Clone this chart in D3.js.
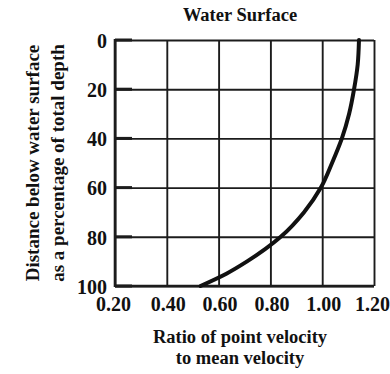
<!DOCTYPE html>
<html><head><meta charset="utf-8">
<script src="https://cdn.jsdelivr.net/npm/d3@7/dist/d3.min.js"></script>
<style>
html,body{margin:0;padding:0;background:#fff;}
svg{display:block;}
text{font-family:"Liberation Serif","Times New Roman",serif;font-weight:bold;fill:#111;}
</style></head>
<body>
<script>
const depth = [0, 10, 20, 30, 40, 50, 60, 70, 80, 90, 95, 100];
const ratio = [1.142, 1.137, 1.123, 1.104, 1.076, 1.038, 0.995, 0.93, 0.84, 0.71, 0.63, 0.53];
const xTicks = [0.2, 0.4, 0.6, 0.8, 1.0, 1.2];
const xTickLabels = ["0.20", "0.40", "0.60", "0.80", "1.00", "1.20"];
const yTicks = [0, 20, 40, 60, 80, 100];
const yTickLabels = ["0", "20", "40", "60", "80", "100"];
const title = "Water Surface";
const yTitle = ["Distance below water surface", "as a percentage of total depth"];
const xTitle = ["Ratio of point velocity", "to mean velocity"];

const W = 390, H = 374;
const m = {left:115, right:16, top:40, bottom:88};
const svg = d3.select("body").append("svg").attr("width", W).attr("height", H);

const x = d3.scaleLinear().domain([0.2, 1.2]).range([m.left, W - m.right]);
const y = d3.scaleLinear().domain([0, 100]).range([m.top, H - m.bottom]);
const ink = "#1c1c1c";

// grid via axes
const gx = svg.append("g").attr("transform", `translate(0,${y(100)})`)
  .call(d3.axisBottom(x).tickValues(xTicks).tickSize(-(y(100) - y(0)))
    .tickFormat((d, i) => xTickLabels[i]).tickPadding(11));
gx.select(".domain").remove();
gx.selectAll("line").attr("stroke", ink).attr("stroke-width", 1.9);
gx.selectAll("text").style("font-size", "20px").attr("fill", ink)
  .attr("dx", (d, i) => i === xTicks.length - 1 ? -2 : (i === 0 ? -2 : 1));

const gy = svg.append("g").attr("transform", `translate(${x(0.2)},0)`)
  .call(d3.axisLeft(y).tickValues(yTicks).tickSize(-(x(1.2) - x(0.2)))
    .tickFormat((d, i) => yTickLabels[i]).tickPadding(8));
gy.select(".domain").remove();
gy.selectAll("line").attr("stroke", ink).attr("stroke-width", 1.9);
gy.selectAll("text").style("font-size", "20px").attr("fill", ink).attr("dy", "0.36em");

// short thick ticks inside the left axis
svg.append("g").selectAll("line").data(yTicks).join("line")
  .attr("x1", x(0.2)).attr("x2", x(0.2) + 17)
  .attr("y1", d => y(d)).attr("y2", d => y(d))
  .attr("stroke", ink).attr("stroke-width", 3);

// frame: left & bottom thicker
svg.append("line").attr("x1", x(0.2)).attr("x2", x(0.2)).attr("y1", y(0) - 1).attr("y2", y(100) + 1)
  .attr("stroke", ink).attr("stroke-width", 2.6);
svg.append("line").attr("x1", x(0.2)).attr("x2", x(1.2)).attr("y1", y(100)).attr("y2", y(100))
  .attr("stroke", ink).attr("stroke-width", 2.4);

// curve
const pts = depth.map((d, i) => [ratio[i], d]);
const line = d3.line().x(d => x(d[0])).y(d => y(d[1])).curve(d3.curveMonotoneY);
svg.append("path").datum(pts).attr("d", line)
  .attr("fill", "none").attr("stroke", "#111").attr("stroke-width", 4).attr("stroke-linecap", "round");

// title
svg.append("text").attr("x", 240).attr("y", 21).attr("text-anchor", "middle")
  .style("font-size", "18.5px").text(title);

// y title
const yt = svg.append("g").attr("transform", "translate(0,163) rotate(-90)");
yt.append("text").attr("x", 0).attr("y", 39).attr("text-anchor", "middle")
  .style("font-size", "19px").text(yTitle[0]);
yt.append("text").attr("x", 0).attr("y", 64).attr("text-anchor", "middle")
  .style("font-size", "19px").text(yTitle[1]);

// x title
svg.append("text").attr("x", 240).attr("y", 343).attr("text-anchor", "middle")
  .style("font-size", "18.5px").text(xTitle[0]);
svg.append("text").attr("x", 240).attr("y", 364).attr("text-anchor", "middle")
  .style("font-size", "18.5px").text(xTitle[1]);
</script>
</body></html>
